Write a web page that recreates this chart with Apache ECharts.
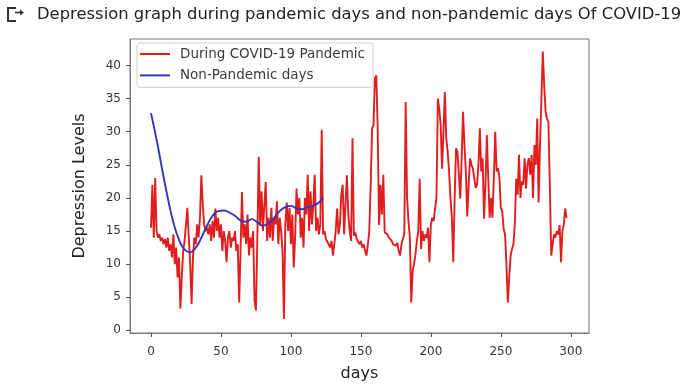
<!DOCTYPE html>
<html>
<head>
<meta charset="utf-8">
<script src="https://cdn.jsdelivr.net/npm/echarts@6/dist/echarts.min.js"></script>
<style>
  html, body { margin: 0; padding: 0; background: #fff; }
  #chart { width: 686px; height: 385px; }
</style>
</head>
<body>
<div id="chart"></div>
<script>
// Daily depression levels during the COVID-19 pandemic (index = day)
const pandemicValues = [
  15.5, 22, 14, 23, 15, 14, 14.5, 13.5, 14, 13,
  13.8, 12.5, 14, 12, 13, 11, 14.5, 10, 12.5, 8,
  11, 3.3, 8, 12, 13.5, 16, 18.5, 14, 10, 4,
  11, 14, 13, 16, 14, 17, 23.4, 19, 16, 15,
  15.5, 14.5, 16, 13.5, 16.5, 14, 18.4, 15, 17, 14,
  16, 12, 15, 13.5, 10.3, 14, 15, 12.5, 14, 13.5,
  15, 12, 13, 4.2, 12, 20.9, 14, 16, 13, 17.5,
  11.3, 14, 12.5, 15, 4.5, 3.0, 14, 26.2, 16, 21,
  15, 19, 22.4, 13.5, 17, 14, 18.5, 13.5, 17, 16,
  19.5, 13, 17, 15, 12, 1.7, 16, 19.3, 15, 18.5,
  13, 17.5, 9.5, 14, 21.4, 17.5, 20, 14, 17, 12.5,
  20, 17.5, 23.5, 15, 21, 16, 19, 23.5, 15, 17,
  14.5, 16, 30.3, 14.5, 15, 13.8, 14, 13, 12.5, 13.5,
  11.3, 13, 15, 18.4, 14.5, 16, 20.5, 22, 14.5, 19,
  23.4, 17.5, 15, 13.5, 29, 14.3, 14.8, 13.8, 14, 13,
  13.5, 12.5, 13, 12, 11.3, 13, 15, 22, 30.5, 31,
  38, 38.5, 30.5, 15.9, 22, 17.5, 23.5, 14.8, 15, 14.5,
  14, 14.3, 13.5, 13, 13.3, 12.8, 13.2, 12, 11.3, 13,
  13.8, 14.5, 34.5, 20, 16.5, 14, 4.2, 9, 10, 11.5,
  13.5, 15, 22.9, 12.3, 15, 13.5, 14.5, 14, 15.5, 10.3,
  16, 17, 16.5, 18.4, 20, 35, 33.5, 31, 24.4, 30,
  36, 29, 27, 24, 20, 17, 10.3, 20, 27.5, 27,
  23.5, 19.9, 26, 33, 28, 24, 17.2, 22, 26, 25,
  24.5, 23, 21.5, 22, 25, 30.5, 24, 26, 16.9, 22,
  29.5, 23, 17, 20, 17, 23, 30, 24, 24.5, 23,
  18.5, 18, 15.3, 14.5, 10, 4.2, 8, 11.3, 12.3, 13,
  16, 22.9, 20.5, 26.5, 20, 22.5, 22, 26, 21.4, 25,
  26, 23.5, 26.5, 20, 28, 25, 32, 19.3, 28, 35,
  42.1, 37, 33, 32, 31.5, 22, 11.3, 13, 14.5, 14,
  15, 14.5, 15.9, 10.3, 15, 16, 18.4, 17
];

// Smoothed non-pandemic curve
const nonPandemicDays = [0, 4, 8, 12, 16, 20, 24, 28, 32, 36, 40, 44, 48, 52, 56, 60,
  64, 68, 72, 76, 80, 84, 88, 92, 96, 100, 104, 108, 112, 116, 120, 123];
const nonPandemicValues = [32.8, 28.8, 24.3, 20.0, 16.3, 13.7, 12.2, 11.8, 12.5, 14.0, 15.8, 17.3, 18.0, 18.1, 17.8, 17.3,
  16.6, 16.4, 16.8, 16.3, 15.8, 16.2, 17.0, 18.0, 18.6, 18.8, 18.4, 18.3, 18.6, 18.8, 19.3, 20.0];

const xTicks = [0, 50, 100, 150, 200, 250, 300];
const yTicks = [0, 5, 10, 15, 20, 25, 30, 35, 40];

const seriesNames = ['During COVID-19 Pandemic', 'Non-Pandemic days'];
const titleText = 'Depression graph during pandemic days and non-pandemic days Of COVID-19';

const FONT = 'DejaVu Sans';
const chart = echarts.init(document.getElementById('chart'), null, { renderer: 'canvas' });

chart.setOption({
  animation: false,
  backgroundColor: '#ffffff',
  title: {
    text: titleText,
    left: 37,
    top: 7,
    padding: 0,
    textStyle: { fontFamily: FONT, fontSize: 16.4, fontWeight: 'normal', color: '#222' }
  },
  graphic: [
    {
      type: 'polyline',
      shape: { points: [[16, 8], [8, 8], [8, 21], [16, 21]] },
      style: { stroke: '#333', lineWidth: 2, fill: null }
    },
    {
      type: 'polygon',
      shape: { points: [[20, 9.5], [24, 12.5], [20, 15.5]] },
      style: { fill: '#333' }
    },
    {
      type: 'line',
      shape: { x1: 15, y1: 12.5, x2: 21, y2: 12.5 },
      style: { stroke: '#333', lineWidth: 1.6 }
    }
  ],
  legend: {
    data: seriesNames,
    orient: 'vertical',
    left: 137,
    top: 43,
    padding: [3, 8, 4, 3],
    itemGap: 5.4,
    itemWidth: 30,
    itemHeight: 2,
    icon: 'rect',
    backgroundColor: '#fff',
    borderColor: '#d0d0d0',
    borderWidth: 1,
    borderRadius: 3,
    textStyle: { fontFamily: FONT, fontSize: 13.5, color: '#3a3a3a', lineHeight: 16, padding: [0, 0, 0, 5] }
  },
  grid: {
    left: 130, top: 39, width: 459, height: 294,
    show: true, borderColor: '#777', borderWidth: 1,
    containLabel: false,
    outerBoundsMode: 'none'
  },
  xAxis: {
    type: 'value',
    min: -15,
    max: 313,
    name: 'days',
    nameLocation: 'middle',
    nameGap: 33,
    nameTextStyle: { fontFamily: FONT, fontSize: 16, color: '#222' },
    axisLine: { show: true, onZero: false, lineStyle: { color: '#777' } },
    axisTick: { show: true, length: 4, customValues: xTicks, lineStyle: { color: '#555' } },
    axisLabel: { customValues: xTicks, margin: 13, fontFamily: FONT, fontSize: 12, color: '#333' },
    splitLine: { show: false }
  },
  yAxis: {
    type: 'value',
    min: -0.4,
    max: 44,
    name: 'Depression Levels',
    nameLocation: 'middle',
    nameGap: 42,
    nameRotate: 90,
    nameTextStyle: { fontFamily: FONT, fontSize: 16, color: '#222' },
    axisLine: { show: true, onZero: false, lineStyle: { color: '#777' } },
    axisTick: { show: true, length: 4, customValues: yTicks, lineStyle: { color: '#555' } },
    axisLabel: { customValues: yTicks, margin: 9, fontFamily: FONT, fontSize: 12, color: '#333' },
    splitLine: { show: false }
  },
  series: [
    {
      name: seriesNames[0],
      type: 'line',
      data: pandemicValues.map((v, i) => [i, v]),
      showSymbol: false,
      color: '#e11d1d',
      lineStyle: { width: 1.9, color: '#e11d1d' },
      z: 2
    },
    {
      name: seriesNames[1],
      type: 'line',
      data: nonPandemicDays.map((d, i) => [d, nonPandemicValues[i]]),
      showSymbol: false,
      smooth: 0.5,
      color: '#3434b8',
      lineStyle: { width: 1.9, color: '#3434b8' },
      z: 3
    }
  ]
});
</script>
</body>
</html>
